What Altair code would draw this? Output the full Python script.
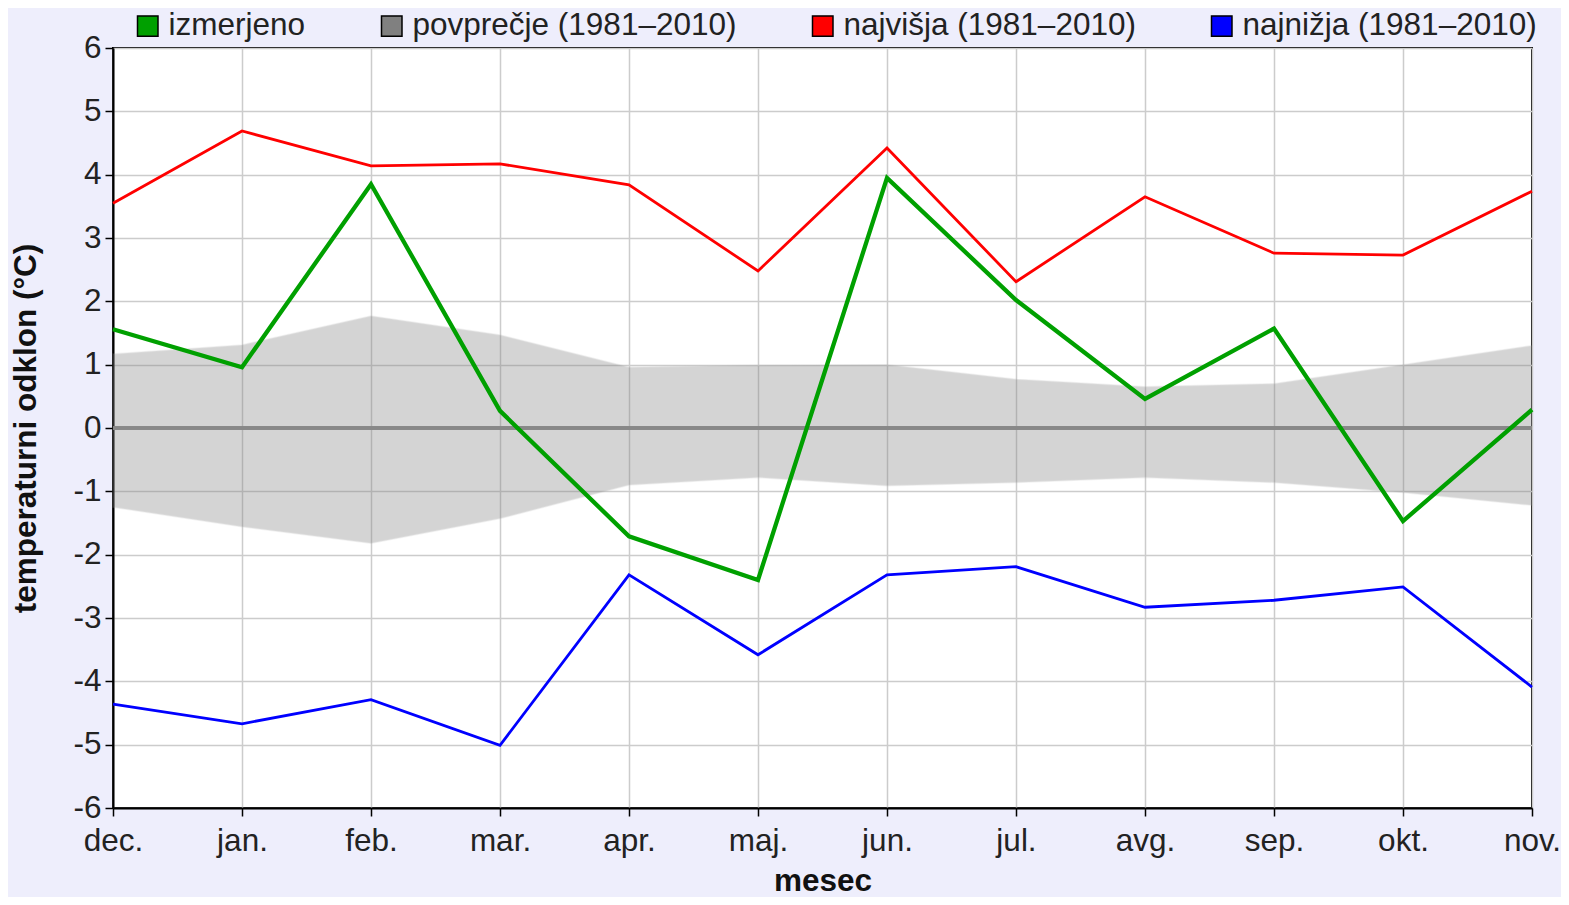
import altair as alt
import pandas as pd

months = ["dec.", "jan.", "feb.", "mar.", "apr.", "maj.", "jun.", "jul.", "avg.", "sep.", "okt.", "nov."]
izmerjeno = [1.56, 0.96, 3.85, 0.27, -1.71, -2.40, 3.95, 2.02, 0.46, 1.57, -1.47, 0.29]
najvisja = [3.55, 4.69, 4.14, 4.17, 3.84, 2.48, 4.42, 2.31, 3.65, 2.76, 2.73, 3.74]
najnizja = [-4.36, -4.67, -4.29, -5.01, -2.32, -3.58, -2.32, -2.19, -2.83, -2.72, -2.51, -4.09]
avg_upper = [1.17, 1.31, 1.77, 1.47, 0.96, 0.99, 1.00, 0.77, 0.65, 0.70, 1.00, 1.30]
avg_lower = [-1.25, -1.56, -1.82, -1.43, -0.90, -0.78, -0.91, -0.86, -0.78, -0.86, -1.02, -1.22]

series_names = ["izmerjeno", "povprečje (1981–2010)", "najvišja (1981–2010)", "najnižja (1981–2010)"]
series_colors = ["#00a000", "#808080", "#ff0000", "#0000ff"]

FONT = "Liberation Sans"
FS = 31.5

lines = pd.DataFrame(
    [{"series": series_names[0], "mesec": m, "v": v} for m, v in zip(months, izmerjeno)]
    + [{"series": series_names[2], "mesec": m, "v": v} for m, v in zip(months, najvisja)]
    + [{"series": series_names[3], "mesec": m, "v": v} for m, v in zip(months, najnizja)]
)
band = pd.DataFrame({"mesec": months, "lo": avg_lower, "hi": avg_upper})
legend_df = pd.DataFrame({"series": series_names, "mesec": [months[0]] * 4, "v": [0] * 4})

xenc = alt.X(
    "mesec:N",
    sort=months,
    scale=alt.Scale(type="point", padding=0),
    axis=alt.Axis(
        title="mesec", labelAngle=0, grid=True, gridColor="#cccccc", gridWidth=1.5,
        domainColor="black", domainWidth=2, tickColor="black", tickWidth=1.5, tickSize=8,
        labelFontSize=FS, labelFont=FONT, labelColor="#222222", labelPadding=9,
        titleFontSize=FS, titleFont=FONT, titleFontWeight="bold", titleColor="#111111",
        titlePadding=9,
    ),
)
yscale = alt.Scale(domain=[-6, 6], nice=False)
yaxis = alt.Axis(
    title="temperaturni odklon (°C)", values=list(range(-6, 7)),
    labelExpr="datum.value + ''",
    grid=True, gridColor="#cccccc", gridWidth=1.5,
    domainColor="black", domainWidth=2, tickColor="black", tickWidth=1.5, tickSize=8,
    labelFontSize=FS, labelFont=FONT, labelColor="#222222", labelPadding=4,
    titleFontSize=FS, titleFont=FONT, titleFontWeight="bold", titleColor="#111111",
    titlePadding=30,
)
cscale = alt.Scale(domain=series_names, range=series_colors)

area = alt.Chart(band).mark_area(
    color="#808080", opacity=0.33, stroke="#a8a8a8", strokeWidth=1.5, strokeOpacity=0.45
).encode(
    x=xenc,
    y=alt.Y("lo:Q", scale=yscale, axis=yaxis),
    y2="hi:Q",
)

zero = alt.Chart(band).mark_rule(color="#888888", strokeWidth=2.5).encode(y=alt.datum(0))

thin = alt.Chart(lines).transform_filter(
    alt.datum.series != series_names[0]
).mark_line(strokeWidth=2.8).encode(
    x=alt.X("mesec:N", sort=months),
    y=alt.Y("v:Q", scale=yscale),
    color=alt.Color("series:N", scale=cscale, legend=None),
    detail="series:N",
)
thick = alt.Chart(lines).transform_filter(
    alt.datum.series == series_names[0]
).mark_line(strokeWidth=4.3).encode(
    x=alt.X("mesec:N", sort=months),
    y=alt.Y("v:Q", scale=yscale),
    color=alt.Color("series:N", scale=cscale, legend=None),
)

leg = alt.Chart(legend_df).mark_rect(strokeWidth=0).encode(
    x=alt.X("mesec:N", sort=months),
    x2="mesec:N",
    y=alt.Y("v:Q", scale=yscale),
    y2="v:Q",
    color=alt.Color(
        "series:N", scale=cscale,
        legend=alt.Legend(
            title=None, orient="none", legendX=19, legendY=-38, direction="horizontal",
            symbolType="square", symbolSize=420, symbolStrokeColor="black",
            symbolStrokeWidth=1.5, symbolOpacity=1, labelFontSize=FS, labelFont=FONT,
            labelColor="#222222", labelOffset=5, columnPadding=70, padding=0,
            labelLimit=600,
        ),
    ),
)

chart = alt.layer(area, zero, thin, thick, leg).resolve_scale(
    color="independent"
).properties(
    width=1419, height=760,
    autosize=alt.AutoSizeParams(type="none"),
    padding={"left": 105, "top": 40, "right": 29, "bottom": 89},
    background="#eeeefc",
).configure_view(
    fill="white", stroke="black", strokeWidth=2
)

chart.save("out.html", embed_options={"renderer": "svg", "actions": False})
